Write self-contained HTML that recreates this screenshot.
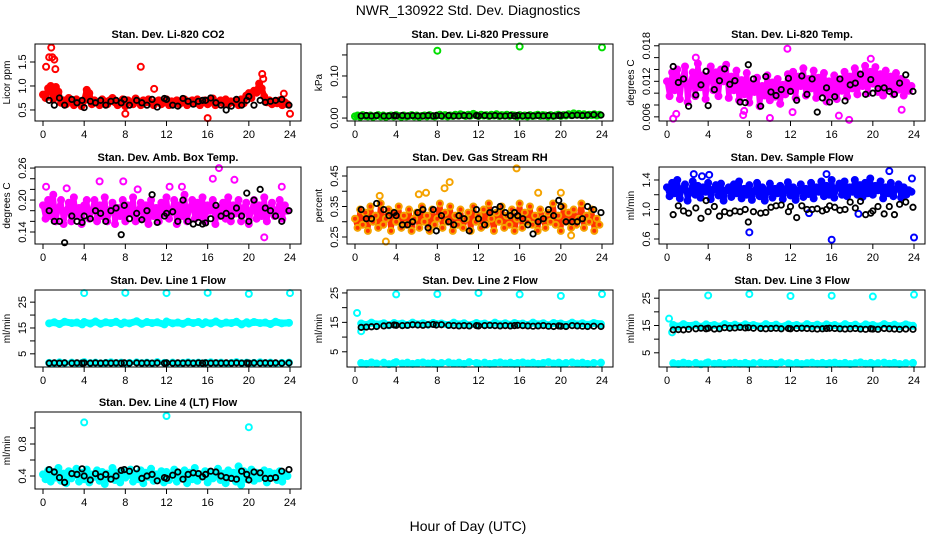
<!DOCTYPE html>
<html><head><meta charset="utf-8">
<style>
html,body{margin:0;padding:0;background:#fff;}
svg{display:block;font-family:"Liberation Sans",sans-serif;}
</style></head>
<body>
<svg id="chart" width="936" height="540" viewBox="0 0 936 540" xmlns="http://www.w3.org/2000/svg">
<rect width="936" height="540" fill="#fff"/>
<text x="468" y="15" text-anchor="middle" font-size="14">NWR_130922  Std. Dev. Diagnostics</text>
<text x="468" y="531" text-anchor="middle" font-size="14">Hour of Day (UTC)</text>
</svg>
<script>
const hours96=[0,0.25,0.5,0.75,1,1.25,1.5,1.75,2,2.25,2.5,2.75,3,3.25,3.5,3.75,4,4.25,4.5,4.75,5,5.25,5.5,5.75,6,6.25,6.5,6.75,7,7.25,7.5,7.75,8,8.25,8.5,8.75,9,9.25,9.5,9.75,10,10.25,10.5,10.75,11,11.25,11.5,11.75,12,12.25,12.5,12.75,13,13.25,13.5,13.75,14,14.25,14.5,14.75,15,15.25,15.5,15.75,16,16.25,16.5,16.75,17,17.25,17.5,17.75,18,18.25,18.5,18.75,19,19.25,19.5,19.75,20,20.25,20.5,20.75,21,21.25,21.5,21.75,22,22.25,22.5,22.75,23,23.25,23.5,23.75];
const hours48=[0.6,1.1,1.6,2.1,2.8,3.3,3.8,4.0,4.6,5.1,5.6,6.1,6.6,7.1,7.6,7.9,8.4,9.1,9.6,10.1,10.6,11.1,11.8,12.0,12.6,13.1,13.6,14.1,14.6,15.1,15.5,15.8,16.3,16.8,17.3,17.8,18.3,18.8,19.3,19.8,20.0,20.5,21.1,21.6,22.1,22.6,23.2,23.9];
const co2=[0.82,0.75,0.95,1.0,0.72,0.98,0.88,0.65,0.7,0.62,0.75,0.68,0.6,0.72,0.66,0.58,0.7,0.92,0.85,0.62,0.7,0.65,0.6,0.72,0.68,0.62,0.7,0.75,0.66,0.6,0.64,0.72,0.58,0.7,0.66,0.62,0.74,0.68,0.6,0.7,0.66,0.72,0.64,0.6,0.68,0.7,0.62,0.66,0.72,0.6,0.68,0.64,0.7,0.62,0.66,0.72,0.6,0.68,0.7,0.64,0.72,0.6,0.66,0.7,0.62,0.68,0.74,0.6,0.66,0.7,0.64,0.72,0.62,0.68,0.66,0.7,0.6,0.72,0.64,0.8,0.85,0.75,0.9,0.86,1.05,0.95,0.78,0.66,0.7,0.62,0.68,0.64,0.7,0.6,0.66,0.62];
const co2OutH=[0.3,0.6,0.8,0.9,1.1,1.2,9.5,16.0,8.0,24.0,21.3,21.4,10.8,23.4];
const co2OutV=[1.4,1.6,1.8,1.6,1.55,1.35,1.4,0.33,0.42,0.42,1.25,1.15,0.94,0.84];
const co2K=[0.7,0.6,0.75,0.6,0.72,0.65,0.7,0.55,0.68,0.65,0.7,0.6,0.68,0.7,0.65,0.72,0.6,0.7,0.65,0.6,0.72,0.56,0.74,0.72,0.6,0.58,0.74,0.68,0.62,0.68,0.7,0.7,0.75,0.65,0.6,0.5,0.58,0.72,0.6,0.7,0.78,0.6,0.7,0.66,0.68,0.7,0.72,0.6];
const pres=[0.004,0.006,0.003,0.007,0.005,0.004,0.006,0.003,0.005,0.007,0.004,0.006,0.003,0.005,0.006,0.004,0.007,0.005,0.003,0.006,0.004,0.005,0.007,0.004,0.006,0.003,0.005,0.006,0.004,0.007,0.005,0.004,0.006,0.008,0.005,0.007,0.004,0.006,0.005,0.008,0.006,0.009,0.007,0.005,0.008,0.006,0.01,0.007,0.005,0.008,0.006,0.007,0.005,0.008,0.006,0.009,0.005,0.007,0.006,0.008,0.005,0.007,0.006,0.004,0.007,0.005,0.006,0.004,0.007,0.005,0.006,0.008,0.005,0.007,0.006,0.004,0.007,0.005,0.006,0.008,0.005,0.007,0.006,0.009,0.007,0.011,0.008,0.01,0.007,0.009,0.006,0.008,0.007,0.009,0.006,0.008];
const presOutH=[8.0,16.0,24.0];
const presOutV=[0.16,0.17,0.168];
const presK=[0.005,0.006,0.005,0.006,0.005,0.005,0.006,0.005,0.006,0.005,0.006,0.005,0.005,0.006,0.005,0.006,0.005,0.006,0.005,0.005,0.006,0.005,0.006,0.005,0.006,0.005,0.006,0.005,0.005,0.006,0.005,0.006,0.005,0.006,0.005,0.006,0.005,0.006,0.005,0.006,0.006,0.007,0.006,0.007,0.006,0.007,0.008,0.007];
const tmp=[0.012,0.0095,0.0135,0.0105,0.014,0.009,0.0125,0.0145,0.0085,0.0115,0.0135,0.0095,0.015,0.011,0.013,0.009,0.0125,0.0145,0.0105,0.0135,0.0095,0.014,0.012,0.0148,0.0092,0.0128,0.0105,0.0138,0.0088,0.0122,0.0098,0.0134,0.0084,0.0116,0.0102,0.0126,0.0078,0.0112,0.0096,0.013,0.0088,0.0118,0.0094,0.0124,0.0082,0.0114,0.0098,0.0132,0.0106,0.0136,0.0092,0.0128,0.0112,0.0142,0.0096,0.0124,0.0108,0.0138,0.0092,0.0126,0.0102,0.0134,0.0086,0.012,0.0098,0.013,0.009,0.0122,0.0104,0.0136,0.0094,0.0128,0.0108,0.0142,0.0098,0.0132,0.0112,0.0146,0.01,0.0136,0.0116,0.0144,0.0102,0.0132,0.0096,0.0138,0.0108,0.0128,0.0098,0.0134,0.0106,0.0124,0.0096,0.0118,0.0104,0.0112];
const tmpOutH=[0.6,0.9,2.8,7.5,11.7,17.7,19.8,10.0,12.2,22.8,7.4,16.7];
const tmpOutV=[0.0057,0.0065,0.016,0.007,0.0175,0.0055,0.0158,0.0058,0.0068,0.0072,0.0063,0.0062];
const tmpK=[0.0145,0.0118,0.0124,0.0078,0.0097,0.0114,0.0137,0.0079,0.0106,0.0121,0.0141,0.0115,0.0121,0.0085,0.0084,0.0148,0.0124,0.0078,0.0128,0.0102,0.0096,0.0106,0.0125,0.0103,0.0088,0.0129,0.0098,0.0124,0.0068,0.0092,0.0109,0.0085,0.0094,0.0124,0.0087,0.0114,0.0117,0.0132,0.0098,0.0123,0.01,0.0108,0.0109,0.0103,0.0098,0.0117,0.0131,0.0103];
const amb=[0.19,0.165,0.2,0.17,0.21,0.16,0.185,0.2,0.155,0.18,0.195,0.16,0.205,0.17,0.185,0.155,0.19,0.2,0.165,0.18,0.2,0.16,0.19,0.17,0.205,0.16,0.18,0.195,0.155,0.185,0.17,0.2,0.16,0.19,0.175,0.205,0.16,0.18,0.195,0.165,0.19,0.155,0.2,0.17,0.185,0.16,0.195,0.175,0.205,0.165,0.18,0.2,0.155,0.19,0.17,0.21,0.16,0.185,0.2,0.165,0.195,0.17,0.205,0.16,0.19,0.18,0.2,0.155,0.185,0.17,0.195,0.165,0.205,0.16,0.19,0.175,0.2,0.16,0.185,0.195,0.155,0.18,0.2,0.165,0.19,0.17,0.205,0.16,0.185,0.195,0.17,0.18,0.2,0.165,0.19,0.18];
const ambOutH=[0.3,2.3,5.5,7.8,12.3,16.5,17.1,18.6,21.5,23.2,9.2,13.5];
const ambOutV=[0.225,0.222,0.235,0.235,0.225,0.24,0.26,0.238,0.13,0.225,0.22,0.225];
const ambK=[0.18,0.16,0.16,0.12,0.17,0.16,0.158,0.17,0.165,0.18,0.175,0.16,0.18,0.185,0.135,0.19,0.165,0.175,0.163,0.18,0.21,0.158,0.17,0.175,0.178,0.16,0.2,0.16,0.155,0.158,0.155,0.157,0.165,0.19,0.17,0.175,0.17,0.185,0.17,0.213,0.16,0.2,0.22,0.185,0.18,0.17,0.16,0.18];
const rh=[0.31,0.28,0.34,0.29,0.33,0.27,0.35,0.3,0.32,0.28,0.36,0.29,0.31,0.34,0.27,0.33,0.3,0.35,0.28,0.32,0.29,0.34,0.27,0.31,0.33,0.28,0.35,0.3,0.32,0.27,0.34,0.29,0.31,0.36,0.28,0.33,0.3,0.35,0.27,0.32,0.29,0.34,0.28,0.31,0.33,0.27,0.35,0.3,0.32,0.28,0.34,0.29,0.36,0.31,0.27,0.33,0.3,0.35,0.28,0.32,0.29,0.34,0.27,0.31,0.36,0.28,0.33,0.3,0.35,0.29,0.32,0.27,0.34,0.31,0.28,0.33,0.3,0.36,0.29,0.32,0.27,0.35,0.3,0.33,0.28,0.34,0.29,0.31,0.36,0.28,0.32,0.3,0.34,0.27,0.31,0.29];
const rhOutH=[2.4,6.2,6.9,8.7,9.2,15.7,17.8,20.0,3.0,21.0];
const rhOutV=[0.385,0.39,0.395,0.41,0.43,0.475,0.395,0.395,0.235,0.255];
const rhK=[0.34,0.31,0.31,0.36,0.34,0.32,0.33,0.32,0.29,0.29,0.3,0.33,0.34,0.28,0.34,0.27,0.32,0.3,0.29,0.32,0.31,0.27,0.34,0.31,0.29,0.33,0.34,0.35,0.33,0.32,0.33,0.32,0.31,0.29,0.26,0.3,0.31,0.34,0.32,0.37,0.35,0.3,0.3,0.3,0.31,0.35,0.34,0.33];
const smp=[1.3,1.18,1.36,1.22,1.4,1.15,1.28,1.34,1.12,1.25,1.38,1.2,1.32,1.16,1.3,1.24,1.36,1.14,1.27,1.33,1.19,1.35,1.12,1.26,1.3,1.17,1.34,1.22,1.38,1.15,1.28,1.2,1.33,1.13,1.25,1.36,1.18,1.3,1.12,1.24,1.35,1.16,1.28,1.22,1.32,1.14,1.26,1.37,1.19,1.3,1.13,1.25,1.34,1.17,1.28,1.21,1.36,1.15,1.3,1.24,1.38,1.18,1.32,1.2,1.4,1.16,1.29,1.35,1.2,1.38,1.18,1.3,1.24,1.4,1.2,1.33,1.17,1.36,1.22,1.42,1.2,1.32,1.26,1.38,1.15,1.3,1.22,1.36,1.18,1.28,1.34,1.16,1.3,1.2,1.26,1.24];
const smpOutH=[8.0,16.0,24.0,21.6,2.6,4.1,15.5,23.8,3.4,13.8,18.6];
const smpOutV=[0.69,0.59,0.62,1.52,1.48,1.47,1.48,1.42,1.45,0.95,0.94];
const smpK=[0.93,1.05,0.98,0.95,1.02,0.88,1.12,0.97,1.04,0.91,0.97,0.95,0.98,0.97,1.0,0.83,0.97,0.95,0.96,1.03,1.05,1.06,0.97,1.04,0.89,1.05,1.0,1.0,1.01,0.98,1.0,1.05,1.03,0.99,1.0,1.1,1.02,1.11,0.93,0.95,0.98,1.04,0.94,1.04,0.93,1.07,1.1,1.03];
const l1Hi=[16.8,17.2,16.5,17.4,16.9,17.1,16.4,17.3,16.7,17.5,16.6,17.2,16.9,17.4,16.5,17.1,16.8,17.6,16.6,17.3,16.9,17.2,16.4,17.5,16.8,17.1,16.6,17.4,16.9,17.3,16.5,17.2,16.8,17.5,16.6,17.1,16.9,17.4,16.4,17.2,16.7,17.3,16.9,17.1,16.5,17.4,16.8,17.0];
const l1Lo=[1.5,1.3,1.7,1.4,1.6,1.3,1.5,1.8,1.4,1.6,1.3,1.5,1.7,1.4,1.6,1.3,1.5,1.7,1.4,1.6,1.3,1.8,1.5,1.4,1.6,1.3,1.5,1.7,1.4,1.6,1.3,1.5,1.7,1.4,1.6,1.3,1.5,1.8,1.4,1.6,1.3,1.5,1.7,1.4,1.6,1.3,1.5,1.6];
const l1OutH=[4,8,12,16,20,24];
const l1OutV=[28.5,28.6,28.5,28.6,28.2,28.5];
const l1K=[1.4,1.5,1.4,1.5,1.4,1.5,1.4,1.5,1.4,1.5,1.4,1.5,1.4,1.5,1.4,1.5,1.4,1.5,1.4,1.5,1.4,1.5,1.4,1.5,1.4,1.5,1.4,1.5,1.4,1.5,1.4,1.5,1.4,1.5,1.4,1.5,1.4,1.5,1.4,1.5,1.4,1.5,1.4,1.5,1.4,1.5,1.4,1.5];
const l2Hi=[14.6,14.1,14.9,14.3,14.7,14.0,14.8,14.4,14.6,14.1,14.9,14.3,14.7,14.2,14.8,14.4,14.6,14.1,14.9,14.3,14.7,14.0,14.8,14.4,14.6,14.1,14.9,14.3,14.7,14.2,14.8,14.4,14.6,14.1,14.9,14.3,14.7,14.0,14.8,14.4,14.6,14.1,14.9,14.3,14.7,14.2,14.8,14.4];
const l2Lo=[1.2,0.9,1.4,1.0,1.3,0.8,1.2,1.5,1.0,1.3,0.9,1.2,1.4,1.0,1.3,0.9,1.2,1.4,1.0,1.3,0.9,1.5,1.2,1.0,1.3,0.9,1.2,1.4,1.0,1.3,0.9,1.2,1.4,1.0,1.3,0.9,1.2,1.5,1.0,1.3,0.9,1.2,1.4,1.0,1.3,0.9,1.2,1.3];
const l2OutH=[0.2,0.6,4,8,12,16,20,24];
const l2OutV=[18.2,12.0,24.5,24.6,25.0,24.5,24.0,24.6];
const l2K=[13.3,13.4,13.5,13.6,13.8,14.0,14.1,14.0,13.9,14.0,14.2,14.1,14.0,14.2,14.3,14.1,14.2,14.0,13.9,13.8,13.9,13.8,13.9,13.8,13.9,14.0,13.9,13.8,13.9,13.8,13.9,14.0,13.9,13.8,13.7,13.8,13.9,13.7,13.6,13.8,13.7,13.6,13.9,13.8,13.7,13.6,13.7,13.6];
const l3Hi=[15.2,14.6,15.5,14.8,15.3,14.5,15.4,14.9,15.2,14.6,15.5,14.8,15.3,14.7,15.4,14.9,15.2,14.6,15.5,14.8,15.3,14.5,15.4,14.9,15.2,14.6,15.5,14.8,15.3,14.7,15.4,14.9,15.2,14.6,15.5,14.8,15.3,14.5,15.4,14.9,15.2,14.6,15.5,14.8,15.3,14.7,15.4,14.9];
const l3Lo=[1.2,0.9,1.4,1.0,1.3,0.8,1.2,1.5,1.0,1.3,0.9,1.2,1.4,1.0,1.3,0.9,1.2,1.4,1.0,1.3,0.9,1.5,1.2,1.0,1.3,0.9,1.2,1.4,1.0,1.3,0.9,1.2,1.4,1.0,1.3,0.9,1.2,1.5,1.0,1.3,0.9,1.2,1.4,1.0,1.3,0.9,1.2,1.3];
const l3OutH=[0.2,0.5,4,8,12,16,20,24];
const l3OutV=[17.5,12.5,26.0,26.5,25.8,25.9,25.6,26.3];
const l3K=[13.4,13.5,13.4,13.6,13.8,14.0,13.8,14.0,13.7,13.8,14.2,14.0,14.1,14.3,14.1,14.2,14.0,13.9,13.8,13.9,14.0,13.8,13.9,13.8,13.9,14.0,13.9,13.8,13.7,13.8,13.9,14.0,13.9,13.8,13.7,13.8,13.9,13.7,13.6,13.8,13.7,13.6,13.9,13.8,13.7,13.6,13.7,13.6];
const l4=[0.42,0.36,0.47,0.33,0.45,0.38,0.5,0.34,0.43,0.31,0.46,0.37,0.41,0.49,0.33,0.44,0.36,0.48,0.32,0.42,0.39,0.47,0.34,0.45,0.3,0.43,0.37,0.5,0.35,0.44,0.32,0.46,0.38,0.41,0.48,0.33,0.43,0.36,0.47,0.31,0.44,0.39,0.49,0.34,0.42,0.37,0.46,0.32,0.45,0.35,0.41,0.48,0.33,0.43,0.38,0.47,0.31,0.44,0.36,0.5,0.34,0.42,0.39,0.46,0.32,0.45,0.37,0.41,0.49,0.35,0.43,0.31,0.47,0.38,0.44,0.33,0.52,0.29,0.46,0.36,0.42,0.48,0.34,0.44,0.37,0.41,0.47,0.32,0.45,0.39,0.43,0.35,0.46,0.33,0.42,0.4];
const l4OutH=[4,12,20];
const l4OutV=[1.07,1.15,1.01];
const l4K=[0.48,0.45,0.38,0.32,0.43,0.42,0.49,0.4,0.35,0.43,0.39,0.42,0.36,0.4,0.47,0.48,0.46,0.49,0.37,0.4,0.42,0.34,0.38,0.37,0.41,0.45,0.36,0.42,0.44,0.43,0.39,0.42,0.46,0.45,0.4,0.38,0.37,0.36,0.46,0.42,0.35,0.45,0.44,0.37,0.37,0.38,0.46,0.48];
const xTicks=[0,4,8,12,16,20,24];

const NS="http://www.w3.org/2000/svg";
const svg=document.getElementById('chart');
function mk(tag,attrs,parent){const e=document.createElementNS(NS,tag);for(const k in attrs)e.setAttribute(k,attrs[k]);parent.appendChild(e);return e;}

const panels=[
 {key:'co2',title:'Stan. Dev. Li-820 CO2',ylab:'Licor ppm',col:0,row:0,ymin:0.27,ymax:1.875,ticks:[0.5,1.0,1.5],labels:['0.5','1.0','1.5'],color:'#ff0000',
  series:[[hours96,co2,6],[co2OutH,co2OutV,0]],black:co2K},
 {key:'pressure',title:'Stan. Dev. Li-820 Pressure',ylab:'kPa',col:1,row:0,ymin:-0.007,ymax:0.176,ticks:[0,0.05,0.1,0.15],labels:['0.00','','0.10',''],color:'#00dd00',
  series:[[hours96,pres,4],[presOutH,presOutV,0]],black:presK},
 {key:'temp',title:'Stan. Dev. Li-820 Temp.',ylab:'degrees C',col:2,row:0,ymin:0.0053,ymax:0.0183,ticks:[0.006,0.008,0.01,0.012,0.014,0.016,0.018],labels:['0.006','','','0.012','','','0.018'],color:'#ff00ff',
  series:[[hours96,tmp,5],[tmpOutH,tmpOutV,0]],black:tmpK},
 {key:'ambbox',title:'Stan. Dev. Amb. Box Temp.',ylab:'degrees C',col:0,row:1,ymin:0.1175,ymax:0.262,ticks:[0.14,0.16,0.18,0.2,0.22,0.24,0.26],labels:['0.14','','','0.20','','','0.26'],color:'#ff00ff',
  series:[[hours96,amb,5],[ambOutH,ambOutV,0]],black:ambK},
 {key:'rh',title:'Stan. Dev. Gas Stream RH',ylab:'percent',col:1,row:1,ymin:0.227,ymax:0.4795,ticks:[0.25,0.3,0.35,0.4,0.45],labels:['0.25','','0.35','','0.45'],color:'#f5a300',inner:'#ff3300',
  series:[[hours96,rh,5],[rhOutH,rhOutV,0]],black:rhK},
 {key:'sampleflow',title:'Stan. Dev. Sample Flow',ylab:'ml/min',col:2,row:1,ymin:0.532,ymax:1.576,ticks:[0.6,0.8,1.0,1.2,1.4],labels:['0.6','','1.0','','1.4'],color:'#0000ff',
  series:[[hours96,smp,5],[smpOutH,smpOutV,0]],black:smpK},
 {key:'line1',title:'Stan. Dev. Line 1 Flow',ylab:'ml/min',col:0,row:2,ymin:-0.1,ymax:29.7,ticks:[5,10,15,20,25],labels:['5','','15','','25'],color:'#00ffff',
  series:[[hours48,l1Hi,7],[hours48,l1Lo,5],[l1OutH,l1OutV,0]],black:l1K},
 {key:'line2',title:'Stan. Dev. Line 2 Flow',ylab:'ml/min',col:1,row:2,ymin:-0.17,ymax:26,ticks:[5,10,15,20,25],labels:['5','','15','','25'],color:'#00ffff',
  series:[[hours48,l2Hi,7],[hours48,l2Lo,5],[l2OutH,l2OutV,0]],black:l2K},
 {key:'line3',title:'Stan. Dev. Line 3 Flow',ylab:'ml/min',col:2,row:2,ymin:-0.2,ymax:28,ticks:[5,10,15,20,25],labels:['5','','15','','25'],color:'#00ffff',
  series:[[hours48,l3Hi,7],[hours48,l3Lo,5],[l3OutH,l3OutV,0]],black:l3K},
 {key:'line4',title:'Stan. Dev. Line 4 (LT) Flow',ylab:'ml/min',col:0,row:3,ymin:0.2375,ymax:1.2,ticks:[0.4,0.6,0.8,1.0],labels:['0.4','','0.8',''],color:'#00ffff',
  series:[[hours96,l4,5],[l4OutH,l4OutV,0]],black:l4K}
];
const colLeft=[35,347,659], rowTop=[44,167,290,412], W=266, H=77;

panels.forEach(p=>{
  const L=colLeft[p.col], T=rowTop[p.row];
  const g=mk('g',{},svg);
  
  
  const xs=h=>L+8+h/24*247;
  const ys=v=>T+H-(v-p.ymin)/(p.ymax-p.ymin)*H;
  const t=mk('text',{x:L+W/2,y:T-6,'text-anchor':'middle','font-size':'11','font-weight':'bold'},g);
  t.textContent=p.title;
  
  
  const mg=mk('g',{},g);
  
  
  p.series.forEach(([hs,vs,band])=>{
    if(band>0){
      const pts=hs.map((h,i)=>xs(h).toFixed(1)+','+ys(vs[i]).toFixed(1)).join(' ');
      const pl=mk('polyline',{points:pts,fill:'none',stroke:p.inner?p.inner:p.color,'stroke-width':band,'stroke-linejoin':'round','stroke-linecap':'round'},mg);
      
      
    }
    hs.forEach((h,i)=>{
      const c=mk('circle',{cx:xs(h),cy:ys(vs[i]),r:3,fill:'none',stroke:p.color,'stroke-width':2},mg);
      
      
    });
  });
  const kg=mk('g',{},g);
  
  
  hours48.forEach((h,i)=>{
    const c=mk('circle',{cx:xs(h),cy:ys(p.black[i]),r:2.7,fill:'none',stroke:'#000','stroke-width':1.8},kg);
    
    
  });
  const b=mk('rect',{x:L,y:T,width:W,height:H,fill:'none',stroke:'#000','stroke-width':1},g);
  
  
  const xa=mk('g',{},g);
  
  
  mk('line',{x1:xs(0),x2:xs(24),y1:T+H,y2:T+H,stroke:'#000'},xa);
  xTicks.forEach(v=>{
    mk('line',{x1:xs(v),x2:xs(v),y1:T+H,y2:T+H+5,stroke:'#000'},xa);
    const tl=mk('text',{x:xs(v),y:T+H+17,'text-anchor':'middle','font-size':'11'},xa);
    tl.textContent=v;
    
    
  });
  const ya=mk('g',{},g);
  
  
  mk('line',{x1:L,x2:L,y1:ys(p.ticks[0]),y2:ys(p.ticks[p.ticks.length-1]),stroke:'#000'},ya);
  p.ticks.forEach((v,i)=>{
    const y=ys(v);
    mk('line',{x1:L-5,x2:L,y1:y,y2:y,stroke:'#000'},ya);
    if(p.labels[i]){
      const tl=mk('text',{x:L-9,y:y,'text-anchor':'middle','font-size':'11',transform:`rotate(-90 ${L-9} ${y})`},ya);
      tl.textContent=p.labels[i];
      
      
    }
  });
  const yt=mk('text',{x:L-25,y:T+H/2,'text-anchor':'middle','font-size':'10',transform:`rotate(-90 ${L-25} ${T+H/2})`},g);
  yt.textContent=p.ylab;
  
  
});
</script>
</body></html>
